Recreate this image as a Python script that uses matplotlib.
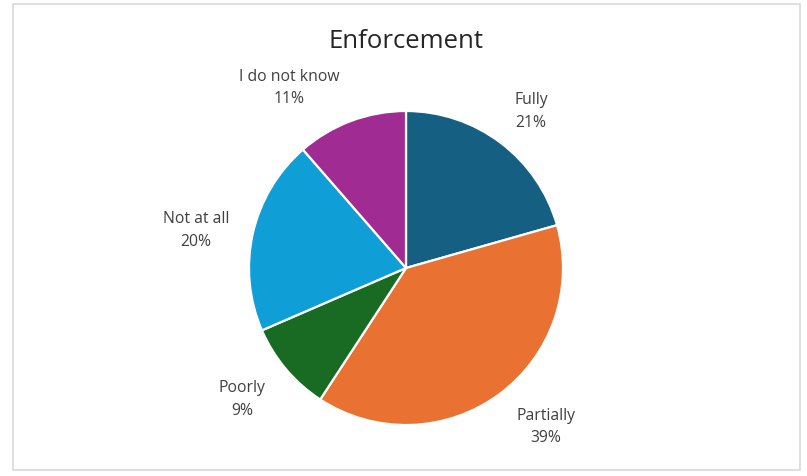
import matplotlib
matplotlib.use("Agg")
import matplotlib.pyplot as plt
from matplotlib.patches import Rectangle
import numpy as np

categories = ["Fully", "Partially", "Poorly", "Not at all", "I do not know"]
values = [20.6, 38.6, 9.3, 20.1, 11.4]
colors = ["#156082", "#E97132", "#196B24", "#0F9ED5", "#A02B93"]

plt.rcParams['font.family'] = ['Open Sans', 'DejaVu Sans']

W, H = 807, 476
fig = plt.figure(figsize=(W / 100, H / 100), dpi=100)
ax = fig.add_axes([0, 0, 1, 1])
R = 157.0
cx, cy = 406.0, 476 - 268.0

wedges, _ = ax.pie(values, colors=colors, startangle=90, counterclock=False,
                   radius=1.0, wedgeprops=dict(edgecolor="white", linewidth=1.6))
ax.set_aspect('auto')
ax.set_xlim((0 - cx) / R, (W - cx) / R)
ax.set_ylim((0 - cy) / R, (H - cy) / R)
ax.axis('off')

total = sum(values)
# label layout (radius, angular nudge in degrees)
label_r = [1.276, 1.350, 1.339, 1.359, 1.367]
label_nudge = [-1.5, 5.0, -1.4, 2.65, 12.5]
for w, cat, v, r, dn in zip(wedges, categories, values, label_r, label_nudge):
    mid = np.deg2rad((w.theta1 + w.theta2) / 2 + dn)
    ax.text(r * np.cos(mid), r * np.sin(mid), f"{cat}\n{100 * v / total:.0f}%",
            ha="center", va="center", fontsize=11.3, color="#404040", linespacing=1.55)

fig.text(406 / W, 1 - 42 / H, "Enforcement", ha="center", va="center",
         fontsize=18.5, color="#262626")

fig.patches.append(Rectangle((13 / W, 1 - 470 / H), 787 / W, 466 / H,
                             transform=fig.transFigure, fill=False,
                             edgecolor="#d9d9d9", linewidth=1.2))

fig.savefig("out.png", dpi=100)
